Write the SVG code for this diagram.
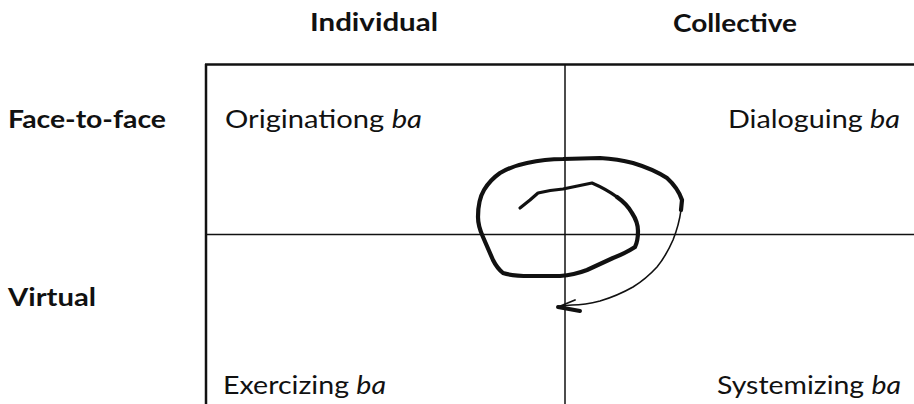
<svg xmlns="http://www.w3.org/2000/svg" width="914" height="404" viewBox="0 0 914 404">
<style>
.hdr{font-family:Lato,"Liberation Sans",sans-serif;font-weight:bold;font-size:24px;fill:#111}
.lbl{font-family:Lato,"Liberation Sans",sans-serif;font-size:25px;fill:#111}
.it{font-style:italic}
.frame{stroke:#111;fill:none}
.spiral{stroke:#111;fill:none;stroke-linecap:round;stroke-linejoin:round}
</style>
<rect width="914" height="404" fill="#fff"/>
<g id="headers">
<text class="hdr" x="310" y="31" textLength="128" lengthAdjust="spacingAndGlyphs">Individual</text>
<text class="hdr" x="673" y="32" textLength="124" lengthAdjust="spacingAndGlyphs">Collective</text>
<text class="hdr" x="8" y="128" textLength="158" lengthAdjust="spacingAndGlyphs">Face-to-face</text>
<text class="hdr" x="8" y="306" textLength="88" lengthAdjust="spacingAndGlyphs">Virtual</text>
</g>
<g id="grid">
<line class="frame" x1="205" y1="64.5" x2="914" y2="64.5" stroke-width="2.5"/>
<line class="frame" x1="206" y1="64" x2="206" y2="404" stroke-width="2.5"/>
<line class="frame" x1="206" y1="234.5" x2="914" y2="234.5" stroke-width="1.5"/>
<line class="frame" x1="565" y1="64" x2="565" y2="404" stroke-width="1.5"/>
</g>
<g id="originating">
<text class="lbl" x="225" y="128" textLength="197" lengthAdjust="spacingAndGlyphs">Originationg <tspan class="it">ba</tspan></text>
</g>
<g id="dialoguing">
<text class="lbl" x="728" y="128" textLength="172" lengthAdjust="spacingAndGlyphs">Dialoguing <tspan class="it">ba</tspan></text>
</g>
<g id="exercizing">
<text class="lbl" x="223" y="394" textLength="163" lengthAdjust="spacingAndGlyphs">Exercizing <tspan class="it">ba</tspan></text>
</g>
<g id="systemizing">
<text class="lbl" x="717" y="394" textLength="184" lengthAdjust="spacingAndGlyphs">Systemizing <tspan class="it">ba</tspan></text>
</g>
<g id="connectors">
<path class="spiral" stroke-width="3.2" d="M520,208 L530,200 L538,193 Q550,190 563,189 L592,183 Q606,189 617,197"/>
<path class="spiral" stroke-width="4.2" d="M617,197 Q627,204 632,213 Q638,222 638,231 Q638,241 635,247 Q626,253 613,258 L587,270 Q574,275 560,276 L530,276 Q512,276 503,273 Q497,268 493,260 L483,237 Q478,226 478,217 Q478,200 484,190 Q490,180 500,173 Q512,166 527,163 Q545,159 563,159 L600,158 Q618,159 633,163 Q653,169 667,178 Q678,188 682,200 L681,210"/>
<path class="spiral" stroke-width="1.6" d="M681,210 Q679,225 673,240 Q666,256 657,267 Q646,279 633,287 Q617,296 600,301 Q585,305 572,305 L560,306"/>
<path class="spiral" stroke-width="4" d="M558,307 L580,311"/>
<path class="spiral" stroke-width="1.8" d="M558,307 L575,300"/>
</g>
</svg>
